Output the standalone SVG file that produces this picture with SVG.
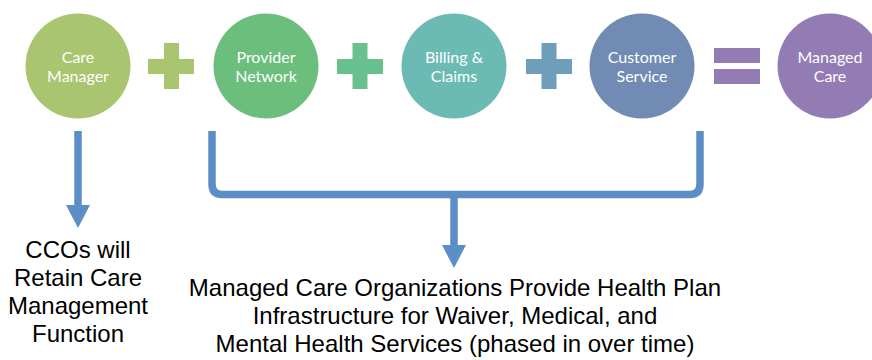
<svg xmlns="http://www.w3.org/2000/svg" width="872" height="360" viewBox="0 0 872 360">
<style>
.ct{font-family:Lato,"Open Sans",sans-serif;font-size:16px;fill:#fff;text-anchor:middle}
.bt{font-family:"Liberation Sans",Arial,sans-serif;font-size:24px;fill:#000;text-anchor:middle}
.conn{fill:none;stroke:#5B8EC7;stroke-width:7.5}
.head{fill:#5B8EC7}
</style>
<rect width="872" height="360" fill="#fff"/>
<g id="care-manager">
<circle cx="78" cy="66" r="52.5" fill="#A9C56F"/>
<text class="ct" x="78" y="63">Care</text>
<text class="ct" x="78" y="82">Manager</text>
</g>
<g id="plus1" fill="#A9C56F">
<rect x="148" y="59" width="46" height="15"/>
<rect x="164" y="43" width="15" height="46"/>
</g>
<g id="provider-network">
<circle cx="266" cy="66" r="52.5" fill="#6BBE7B"/>
<text class="ct" x="266" y="63">Provider</text>
<text class="ct" x="266" y="82">Network</text>
</g>
<g id="plus2" fill="#68C08E">
<rect x="337" y="59" width="46" height="15"/>
<rect x="352.5" y="43" width="15" height="46"/>
</g>
<g id="billing-claims">
<circle cx="454" cy="66" r="52.5" fill="#6CBAB4"/>
<text class="ct" x="454" y="63">Billing &amp;</text>
<text class="ct" x="454" y="82">Claims</text>
</g>
<g id="plus3" fill="#6E9EBA">
<rect x="526" y="59" width="46" height="15"/>
<rect x="541.5" y="43" width="15" height="46"/>
</g>
<g id="customer-service">
<circle cx="642" cy="66" r="52.5" fill="#728BB5"/>
<text class="ct" x="642" y="63">Customer</text>
<text class="ct" x="642" y="82">Service</text>
</g>
<g id="equals" fill="#937CB3">
<rect x="714" y="48" width="46" height="15"/>
<rect x="714" y="69" width="46" height="15"/>
</g>
<g id="managed-care">
<circle cx="830" cy="66" r="52.5" fill="#937CB3"/>
<text class="ct" x="830" y="63">Managed</text>
<text class="ct" x="830" y="82">Care</text>
</g>
<g id="connectors">
<line class="conn" x1="78" y1="131" x2="78" y2="206"/>
<polygon class="head" points="66,205 90,205 78,228"/>
<path class="conn" d="M212,131 V184 Q212,194.5 222,194.5 H690 Q700,194.5 700,184 V131"/>
<line class="conn" x1="454" y1="194" x2="454" y2="246"/>
<polygon class="head" points="442,245 466,245 454,268"/>
</g>
<g id="ccos-text">
<text class="bt" x="78" y="258">CCOs will</text>
<text class="bt" x="78" y="286">Retain Care</text>
<text class="bt" x="78" y="314">Management</text>
<text class="bt" x="78" y="342">Function</text>
</g>
<g id="mco-text">
<text class="bt" x="455" y="296">Managed Care Organizations Provide Health Plan</text>
<text class="bt" x="455" y="324">Infrastructure for Waiver, Medical, and</text>
<text class="bt" x="455" y="352">Mental Health Services (phased in over time)</text>
</g>
</svg>
